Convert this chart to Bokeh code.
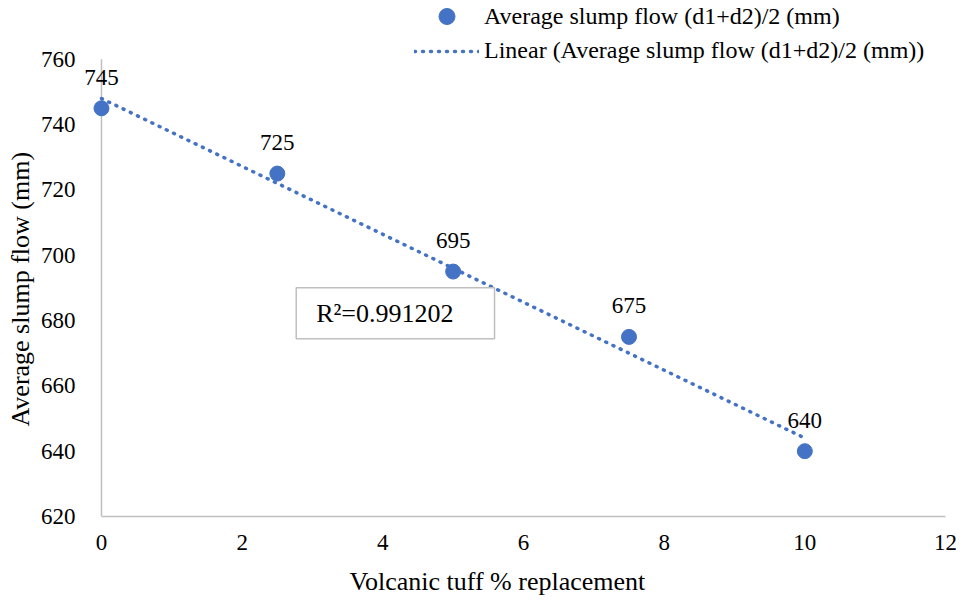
import numpy as np
from bokeh.plotting import figure
from bokeh.models import Range1d, FixedTicker, Legend, LegendItem, Label, ColumnDataSource, Title
from bokeh.embed import file_html
from bokeh.resources import INLINE
from bokeh.core.properties import value

# data
replacement = [0, 2.5, 5, 7.5, 10]
slump_flow = [745, 725, 695, 675, 640]
x_ticks = [0, 2, 4, 6, 8, 10, 12]
y_ticks = [620, 640, 660, 680, 700, 720, 740, 760]

x_title = "Volcanic tuff % replacement"
y_title = "Average slump flow (mm)"
series_name = "Average slump flow (d1+d2)/2 (mm)"
trend_name = "Linear (Average slump flow (d1+d2)/2 (mm))"

# linear trendline (least squares fit as in the spreadsheet)
coef = np.polyfit(replacement, slump_flow, 1)
trend_x = [min(replacement), max(replacement)]
trend_y = list(np.polyval(coef, trend_x))
pred = np.polyval(coef, replacement)
ss_res = float(np.sum((np.array(slump_flow) - pred) ** 2))
ss_tot = float(np.sum((np.array(slump_flow) - np.mean(slump_flow)) ** 2))
r2 = 1 - ss_res / ss_tot

FONT = "Liberation Serif"
BLUE = "#4472C4"
GRAY = "#BFBFBF"

# frame spans the whole top so the legend (drawn inside the frame) is not clipped;
# axis lines are limited to the tick span
p = figure(width=960, height=608, output_backend="svg", toolbar_location=None,
           x_range=Range1d(-0.284, 12), y_range=Range1d(620, 778.0),
           min_border_left=80, min_border_top=0, min_border_right=15, min_border_bottom=90)
p.outline_line_color = None
p.grid.grid_line_color = None
p.background_fill_color = "white"
p.border_fill_color = "white"

for ax in (p.xaxis[0], p.yaxis[0]):
    ax.axis_line_color = GRAY
    ax.axis_line_width = 1.5
    ax.major_tick_line_color = None
    ax.minor_tick_line_color = None
    ax.major_label_text_font = FONT
    ax.major_label_text_font_size = "23px"
    ax.major_label_text_color = "black"

p.xaxis.ticker = FixedTicker(ticks=x_ticks)
p.yaxis.ticker = FixedTicker(ticks=y_ticks)
p.xaxis.bounds = (x_ticks[0], x_ticks[-1])
p.yaxis.axis_line_color = None
p.xaxis.major_label_standoff = 12
p.yaxis.major_label_standoff = 0

# axis titles
p.add_layout(Title(text=x_title, align="left", offset=268, standoff=25, vertical_align="bottom",
                   text_font=FONT, text_font_size="26px", text_font_style="normal",
                   text_color="black"), "below")
p.add_layout(Title(text=y_title, align="left", offset=90, standoff=6, vertical_align="bottom",
                   text_font=FONT, text_font_size="26px", text_font_style="normal",
                   text_color="black"), "left")

# vertical axis line at x = 0 over the tick span
p.segment(x0=[x_ticks[0]], y0=[y_ticks[0]], x1=[x_ticks[0]], y1=[y_ticks[-1]],
          line_color=GRAY, line_width=1.5)

src = ColumnDataSource(dict(x=replacement, y=slump_flow, lab=[str(v) for v in slump_flow]))

trend = p.line(trend_x, trend_y, line_color=BLUE, line_width=3.5, line_dash="1 7", line_cap="round")
pts = p.scatter("x", "y", source=src, size=15, color=BLUE)
p.text("x", "y", text="lab", source=src, y_offset=-31, text_align="center",
       text_baseline="middle", text_font=value(FONT), text_font_size="23px", text_color="black")

r2_label = Label(x=2.769, y=682.2, text="R\u00b2=%.6f" % r2, text_font=FONT, text_font_size="26px",
                 text_baseline="middle", text_align="left", text_color="black",
                 border_line_color=GRAY, border_line_width=1.5, background_fill_color="white",
                 padding=(20, 41, 11, 11))
p.add_layout(r2_label)

common = dict(orientation="vertical", background_fill_alpha=0, border_line_color=None,
              glyph_width=65, label_height=20, spacing=0, label_standoff=5, padding=0, margin=0,
              label_text_font=FONT, label_text_font_size="24px", label_text_color="black")
legend_a = Legend(items=[LegendItem(label=series_name, renderers=[pts])],
                  location=(333, 480), glyph_height=40, **common)
legend_b = Legend(items=[LegendItem(label=trend_name, renderers=[trend])],
                  location=(333, 452), glyph_height=20, **common)
p.add_layout(legend_a)
p.add_layout(legend_b)

open("out.html", "w").write(file_html(p, INLINE))
